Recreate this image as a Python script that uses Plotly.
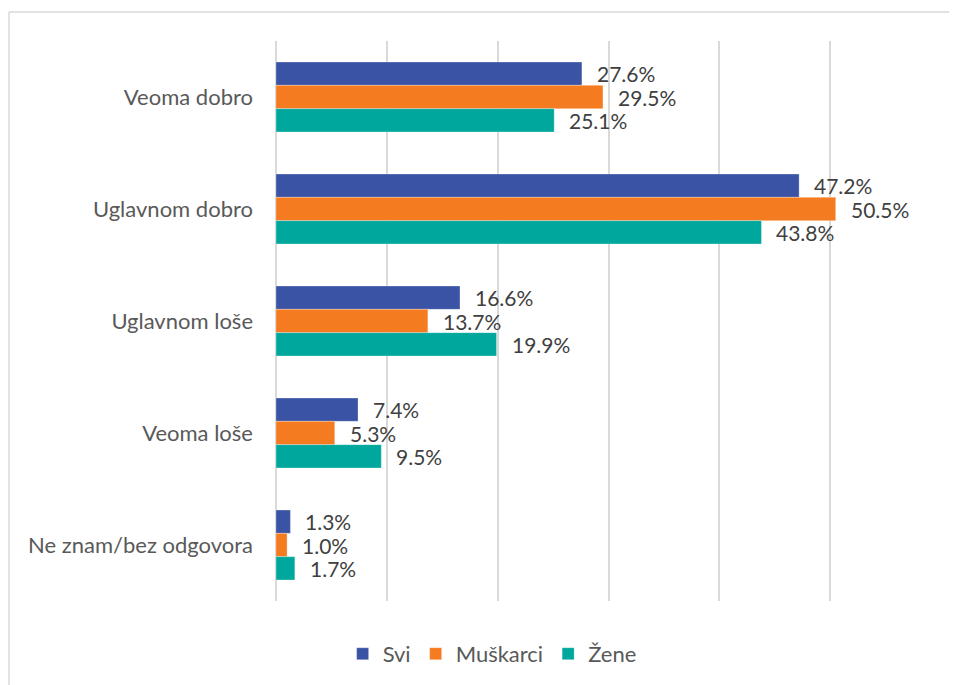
import plotly.graph_objects as go

categories = ["Veoma dobro", "Uglavnom dobro", "Uglavnom loše", "Veoma loše", "Ne znam/bez odgovora"]
series_names = ["Svi", "Muškarci", "Žene"]
svi = [27.6, 47.2, 16.6, 7.4, 1.3]
muskarci = [29.5, 50.5, 13.7, 5.3, 1.0]
zene = [25.1, 43.8, 19.9, 9.5, 1.7]
colors = ["#3A53A4", "#F47B20", "#00A79D"]

FONT = "Lato"
TXT = "#595959"

fig = go.Figure()
for name, vals, col in zip(series_names, [svi, muskarci, zene], colors):
    fig.add_trace(go.Bar(
        y=categories, x=vals, name=name, orientation="h",
        marker=dict(color=col, line=dict(color="rgba(255,255,255,0.6)", width=0.5)),
        text=[f"{v:.1f}%" for v in vals], textposition="none",
    ))

# data labels as annotations, positioned via axis coordinates
n = len(series_names)
group_w = 0.625
bw = group_w / n
for i, vals in enumerate([svi, muskarci, zene]):
    for j, v in enumerate(vals):
        fig.add_annotation(
            x=v, y=j - group_w / 2 + bw * (i + 0.5), xref="x", yref="y",
            text=f"{v:.1f}%", showarrow=False, xanchor="left", yanchor="middle",
            xshift=14, borderpad=0, font=dict(family=FONT, size=21, color="#404040"),
        )

fig.update_layout(
    width=957, height=685,
    margin=dict(l=268, r=24, t=33, b=92),
    paper_bgcolor="white", plot_bgcolor="white",
    barmode="group", bargap=0.375, bargroupgap=0,
    font=dict(family=FONT, size=22, color=TXT),
    showlegend=True,
    legend=dict(orientation="h", x=0.325, xanchor="center", y=-0.057, yanchor="top",
                font=dict(family=FONT, size=22, color=TXT), itemwidth=30,
                traceorder="normal"),
    xaxis=dict(range=[0, 60], dtick=10, showticklabels=False, showgrid=True,
               gridcolor="#D9D9D9", gridwidth=1.5, zeroline=True, zerolinecolor="#D9D9D9",
               zerolinewidth=1.5, showline=False, fixedrange=True),
    yaxis=dict(type="category", categoryorder="array", categoryarray=categories,
               autorange="reversed", showgrid=False, zeroline=False, showline=False,
               ticks="", ticklabelstandoff=22, tickfont=dict(family=FONT, size=22, color=TXT)),
    shapes=[
        dict(type="line", xref="paper", yref="paper", x0=-0.4015, x1=1.1, y0=1.0518, y1=1.0518,
             line=dict(color="#D9D9D9", width=1.5)),
        dict(type="line", xref="paper", yref="paper", x0=-0.4015, x1=-0.4015, y0=1.0518, y1=-0.3,
             line=dict(color="#D9D9D9", width=1.5)),
    ],
)

fig.write_html("out.html")
